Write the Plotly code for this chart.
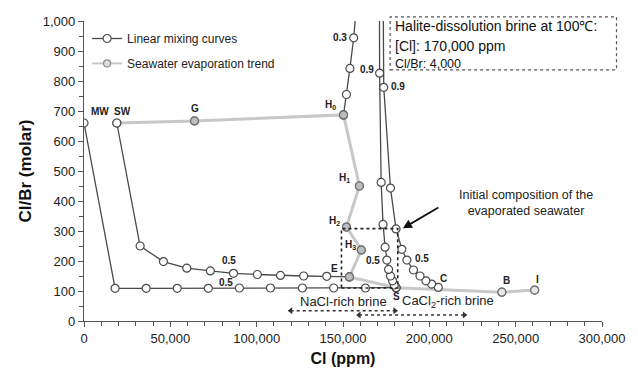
import plotly.graph_objects as go

# ---- data ----
# Seawater evaporation trend
evap_x = [19000, 64000, 150300, 159500, 152000, 160600, 153700, 180700, 242000, 261000]
evap_y = [660, 667, 687, 450, 313, 237, 147, 111, 96, 103]

# Linear mixing: MW -> S
mix1_x = [0, 18000, 36000, 54000, 72000, 90000, 108000, 126500, 144600, 163000, 180700]
mix1_y = [660, 109, 109, 109, 109, 110, 110, 110, 110, 110, 111]

# Linear mixing: SW -> E
mix2_x = [19000, 32500, 46000, 59500, 73200, 86600, 100400, 113800, 127200, 140600, 153700]
mix2_y = [660, 250, 198, 176, 167, 159, 155, 152, 150, 149, 147]

# Linear mixing: H0 -> halite-dissolution brine
mix3_x = [150300, 152000, 154000, 156200, 158000, 170000]
mix3_y = [687, 755, 842, 944, 1067, 4000]

# Linear mixing: S -> halite-dissolution brine
mix4_x = [180700, 179700, 178700, 177500, 176400, 175400, 174400, 173200, 172100, 171200, 170000]
mix4_y = [111, 120, 134, 150, 172, 203, 246, 322, 462, 826, 4000]

# Linear mixing: C -> halite-dissolution brine
mix5_x = [205200, 201300, 198000, 194600, 190800, 187000, 184100, 180700, 177500, 173600, 170000]
mix5_y = [112, 123, 134, 150, 170, 203, 239, 307, 443, 779, 4000]

# point labels
lab_text = ["MW", "SW", "G", "H<sub>0</sub>", "H<sub>1</sub>", "H<sub>2</sub>", "H<sub>3</sub>",
            "E", "S", "C", "B", "I", "0.3", "0.9", "0.9", "0.5", "0.5", "0.5", "0.5"]
lab_x = [9200, 22400, 64200, 142700, 150700, 145000, 154100, 145000, 180700, 208000, 244400,
         262500, 148200, 164000, 181900, 84200, 82200, 167500, 195800]
lab_y = [697, 697, 710, 720, 476, 333, 253, 176, 81, 142, 134, 139, 944, 837, 781, 201, 128, 203, 209]

# composition-window box
box_x = [149100, 181700]
box_y = [110, 308]

# brine range arrows
nacl_x = [119700, 180100]
nacl_y = 34
cacl_x = [159300, 220300]
cacl_y = 20

DARK = "#4a4a4a"
GRAY = "#c8c8c8"
FONT = "Liberation Sans, Arial, sans-serif"

fig = go.Figure()

mix_marker = dict(symbol="circle", size=8, color="white", line=dict(color=DARK, width=1.2))

fig.add_trace(go.Scatter(x=evap_x, y=evap_y, mode="lines+markers", name="Seawater evaporation trend",
                         line=dict(color=GRAY, width=3),
                         marker=dict(symbol="circle", size=8, color="#bdbdbd",
                                     line=dict(color="#6e6e6e", width=1.2)),
                         showlegend=False))

for i, (xs, ys) in enumerate([(mix1_x, mix1_y), (mix2_x, mix2_y), (mix3_x, mix3_y),
                              (mix4_x, mix4_y), (mix5_x, mix5_y)]):
    fig.add_trace(go.Scatter(x=xs, y=ys, mode="lines+markers", name="Linear mixing curves",
                             line=dict(color=DARK, width=1.3), marker=mix_marker,
                             showlegend=(i == 0)))

# gray-filled markers of the evaporation points G..E on top
fig.add_trace(go.Scatter(x=evap_x[1:7], y=evap_y[1:7], mode="markers",
                         marker=dict(symbol="circle", size=8, color="#bdbdbd",
                                     line=dict(color="#6e6e6e", width=1.2)),
                         showlegend=False, hoverinfo="skip"))
fig.add_trace(go.Scatter(x=evap_x[-2:], y=evap_y[-2:], mode="markers",
                         marker=dict(symbol="circle", size=8, color="#e6e6e6",
                                     line=dict(color="#6e6e6e", width=1.2)),
                         showlegend=False, hoverinfo="skip"))

# legend entry for the evaporation trend (second legend box)
fig.add_trace(go.Scatter(x=[None], y=[None], mode="lines+markers", name="Seawater evaporation trend",
                         line=dict(color=GRAY, width=2),
                         marker=dict(symbol="circle", size=7, color="#e0e0e0",
                                     line=dict(color="#8a8a8a", width=1.2)),
                         showlegend=True, legend="legend2"))

# point labels
for t, lx, ly in zip(lab_text, lab_x, lab_y):
    fig.add_annotation(x=lx, y=ly, text="<b>" + t + "</b>", showarrow=False,
                       font=dict(family=FONT, size=10, color="#222"))

# brine-range arrows (dotted lines + heads)
for xs, yv in [(nacl_x, nacl_y), (cacl_x, cacl_y)]:
    fig.add_shape(type="line", x0=xs[0], x1=xs[1], y0=yv, y1=yv,
                  line=dict(color="#333", width=1.6, dash="dot"))
    fig.add_trace(go.Scatter(x=xs, y=[yv, yv], mode="markers",
                             marker=dict(symbol=["triangle-left", "triangle-right"], size=6, color="#333"),
                             showlegend=False, hoverinfo="skip"))

fig.add_annotation(x=150300, y=64, text="NaCl-rich brine", showarrow=False,
                   font=dict(family=FONT, size=13, color="#222"))
fig.add_annotation(x=211000, y=64, text="CaCl<sub>2</sub>-rich brine", showarrow=False,
                   font=dict(family=FONT, size=13, color="#222"))

# dotted window
fig.add_shape(type="rect", x0=box_x[0], x1=box_x[1], y0=box_y[0], y1=box_y[1],
              line=dict(color="#222", width=1.6, dash="dot"))

# initial composition annotation
fig.add_annotation(x=255800, y=395, text="Initial composition of the<br>evaporated seawater",
                   showarrow=False, font=dict(family=FONT, size=12.5, color="#222"))
fig.add_annotation(x=184700, y=309, ax=206100, ay=381, axref="x", ayref="y", xref="x", yref="y",
                   text="", showarrow=True, arrowhead=2, arrowsize=1, arrowwidth=1.8,
                   arrowcolor="#111")

# halite-dissolution brine box
fig.add_shape(type="rect", xref="paper", yref="paper", x0=0.591, x1=1.028, y0=0.837, y1=1.014,
              line=dict(color="#555", width=1.2, dash="dot"), fillcolor="white", layer="above")
box_lines = [("Halite-dissolution brine at 100\u2103:", 0.985, 14),
             ("[Cl]: 170,000 ppm", 0.918, 14),
             ("Cl/Br: 4,000", 0.858, 12.5)]
for txt, yy, fs in box_lines:
    fig.add_annotation(xref="paper", yref="paper", x=0.597, y=yy, xanchor="left", yanchor="middle",
                       text=txt, showarrow=False, font=dict(family=FONT, size=fs, color="#111"))

legend_common = dict(x=0.006, xanchor="left", yanchor="top", bgcolor="rgba(0,0,0,0)",
                     font=dict(family=FONT, size=12, color="#222"))

fig.update_layout(
    width=638, height=379,
    margin=dict(l=84, r=31, t=21, b=58),
    plot_bgcolor="white", paper_bgcolor="white",
    font=dict(family=FONT, color="#222"),
    showlegend=True,
    legend=dict(y=0.99, **legend_common),
    legend2=dict(y=0.907, **legend_common),
    xaxis=dict(range=[0, 300000], tickvals=[0, 50000, 100000, 150000, 200000, 250000, 300000],
               ticktext=["0", "50,000", "100,000", "150,000", "200,000", "250,000", "300,000"],
               showline=True, linecolor="#555", linewidth=1.2, ticks="outside", ticklen=5,
               tickcolor="#555", showgrid=False, zeroline=False,
               minor=dict(dtick=10000, ticks="outside", ticklen=4, tickcolor="#555", showgrid=False),
               tickfont=dict(family=FONT, size=13, color="#222"),
               title=dict(text="<b>Cl (ppm)</b>", font=dict(family=FONT, size=16, color="#111"),
                          standoff=8)),
    yaxis=dict(range=[0, 1000], dtick=100, tickformat=",d",
               showline=True, linecolor="#555", linewidth=1.2, ticks="outside", ticklen=5,
               tickcolor="#555", showgrid=False, zeroline=False,
               minor=dict(dtick=50, ticks="outside", ticklen=4, tickcolor="#555", showgrid=False),
               tickfont=dict(family=FONT, size=13, color="#222"),
               title=dict(text="<b>Cl/Br (molar)</b>", font=dict(family=FONT, size=17, color="#111"),
                          standoff=6)),
)

fig.write_html("out.html")
